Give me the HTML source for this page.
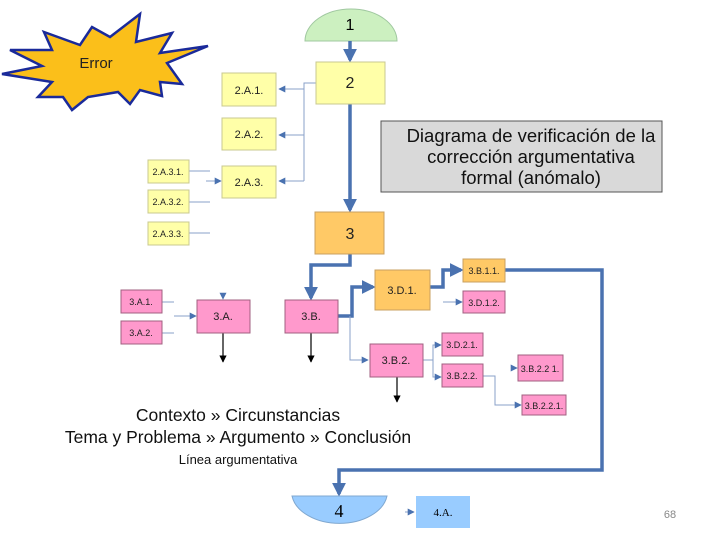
<!DOCTYPE html>
<html><head><style>body{margin:0;background:#fff}svg{display:block}</style></head><body>
<svg width="720" height="540" viewBox="0 0 720 540" xmlns="http://www.w3.org/2000/svg" font-family="Liberation Sans, sans-serif">
<defs>
<marker id="ab" viewBox="0 0 10 10" refX="8" refY="5" markerWidth="4" markerHeight="4" orient="auto"><path d="M0,0L10,5L0,10z" fill="#4a72b0"/></marker>
<marker id="as" viewBox="0 0 10 10" refX="9" refY="5" markerWidth="7" markerHeight="7" orient="auto"><path d="M0,0L10,5L0,10z" fill="#4a72b0"/></marker>
<marker id="ak" viewBox="0 0 10 10" refX="9" refY="5" markerWidth="6" markerHeight="6" orient="auto"><path d="M0,0L10,5L0,10z" fill="#000"/></marker>
</defs>
<polygon points="44,32 80,45 92,27 110,37 140,14 136,42 172,33 160,53 208,46 167,63 182,84 160,82 162,96 140,90 130,104 118,92 88,97 72,110 63,97 38,97 52,82 2,74 42,66 10,50 52,50" fill="#fbbf1a" stroke="#1a2a9a" stroke-width="2.5"/>
<text x="96" y="68" font-size="15" text-anchor="middle" fill="#222">Error</text>
<path d="M305,41 A46,32 0 0 1 397,41 Z" fill="#ccf0c0" stroke="#a0c8a0"/>
<text x="350" y="30" font-size="16" text-anchor="middle">1</text>
<g stroke="#4a72b0" stroke-width="3.5" fill="none">
<line x1="350" y1="41" x2="350" y2="60" marker-end="url(#ab)"/>
<line x1="350" y1="104" x2="350" y2="210" marker-end="url(#ab)"/>
<polyline points="350,254 350,265 311,265 311,298" marker-end="url(#ab)"/>
<polyline points="338,316 352,316 352,287 373,287" marker-end="url(#ab)"/>
<polyline points="430,287 443,287 443,270 461,270" marker-end="url(#ab)"/>
<polyline points="505,270 602,270 602,470 339,470 339,494" marker-end="url(#ab)"/>
</g>
<g stroke="#8aa0c8" stroke-width="1" fill="none">
<polyline points="316,83 304,83 304,181"/>
<line x1="304" y1="89" x2="279" y2="89" marker-end="url(#as)"/>
<line x1="304" y1="135" x2="279" y2="135" marker-end="url(#as)"/>
<line x1="304" y1="181" x2="279" y2="181" marker-end="url(#as)"/>
<line x1="189" y1="171" x2="210" y2="171"/>
<line x1="189" y1="202" x2="210" y2="202"/>
<line x1="189" y1="233" x2="210" y2="233"/>
<line x1="206" y1="181" x2="221" y2="181" marker-end="url(#as)"/>
<line x1="162" y1="302" x2="174" y2="302"/>
<line x1="162" y1="333" x2="174" y2="333"/>
<line x1="174" y1="316" x2="196" y2="316" marker-end="url(#as)"/>
<line x1="223" y1="293" x2="223" y2="299" marker-end="url(#as)"/>
<polyline points="350,316 350,360 368,360" marker-end="url(#as)"/>
<line x1="443" y1="302" x2="462" y2="302" marker-end="url(#as)"/>
<polyline points="423,360 433,360"/>
<polyline points="441,345 433,345 433,377 441,377"/>
<line x1="433" y1="345" x2="441" y2="345" marker-end="url(#as)"/>
<line x1="433" y1="377" x2="441" y2="377" marker-end="url(#as)"/>
<polyline points="483,376 495,376 495,405 521,405" marker-end="url(#as)"/>
<line x1="512" y1="368" x2="517" y2="368" marker-end="url(#as)"/>
<line x1="405" y1="512" x2="414" y2="512" marker-end="url(#as)"/>
</g>
<g stroke="#000" stroke-width="1.2">
<line x1="223" y1="333" x2="223" y2="362" marker-end="url(#ak)"/>
<line x1="311" y1="333" x2="311" y2="362" marker-end="url(#ak)"/>
<line x1="397" y1="377" x2="397" y2="402" marker-end="url(#ak)"/>
</g>
<g fill="#ffffa8" stroke="#c8c890">
<rect x="316" y="62" width="69" height="42"/>
<rect x="222" y="73" width="54" height="33"/>
<rect x="222" y="118" width="54" height="32"/>
<rect x="222" y="166" width="54" height="32"/>
<rect x="148" y="160" width="41" height="23"/>
<rect x="148" y="190" width="41" height="23"/>
<rect x="148" y="222" width="41" height="23"/>
</g>
<g font-size="11" text-anchor="middle" fill="#222">
<text x="350" y="88" font-size="16">2</text>
<text x="249" y="94">2.A.1.</text>
<text x="249" y="138">2.A.2.</text>
<text x="249" y="186">2.A.3.</text>
<text x="168" y="175" font-size="9">2.A.3.1.</text>
<text x="168" y="205" font-size="9">2.A.3.2.</text>
<text x="168" y="237" font-size="9">2.A.3.3.</text>
</g>
<rect x="381" y="121" width="281" height="71" fill="#d9d9d9" stroke="#555"/>
<g font-size="18.5" text-anchor="middle" fill="#111">
<text x="531" y="142">Diagrama de verificación de la</text>
<text x="531" y="163">corrección argumentativa</text>
<text x="531" y="184">formal (anómalo)</text>
</g>
<g fill="#ffc966" stroke="#c8a060">
<rect x="315" y="212" width="69" height="42"/>
<rect x="375" y="270" width="55" height="40"/>
<rect x="463" y="259" width="42" height="23"/>
</g>
<g fill="#ff99cc" stroke="#a06080">
<rect x="285" y="300" width="53" height="33"/>
<rect x="197" y="300" width="53" height="33"/>
<rect x="121" y="290" width="41" height="23"/>
<rect x="121" y="321" width="41" height="23"/>
<rect x="463" y="291" width="42" height="22"/>
<rect x="370" y="344" width="53" height="33"/>
<rect x="442" y="333" width="41" height="23"/>
<rect x="442" y="364" width="41" height="23"/>
<rect x="518" y="355" width="45" height="26"/>
<rect x="522" y="395" width="44" height="20"/>
</g>
<g font-size="11" text-anchor="middle" fill="#222">
<text x="350" y="239" font-size="16">3</text>
<text x="402" y="294">3.D.1.</text>
<text x="484" y="274" font-size="9">3.B.1.1.</text>
<text x="484" y="306" font-size="9">3.D.1.2.</text>
<text x="311" y="320">3.B.</text>
<text x="223" y="320">3.A.</text>
<text x="141" y="305" font-size="9">3.A.1.</text>
<text x="141" y="336" font-size="9">3.A.2.</text>
<text x="396" y="364">3.B.2.</text>
<text x="462" y="348" font-size="9">3.D.2.1.</text>
<text x="462" y="379" font-size="9">3.B.2.2.</text>
<text x="540" y="372" font-size="9">3.B.2.2 1.</text>
<text x="544" y="409" font-size="9">3.B.2.2.1.</text>
</g>
<g fill="#111" text-anchor="middle">
<text x="238" y="421" font-size="17.5">Contexto » Circunstancias</text>
<text x="238" y="443" font-size="17.5">Tema y Problema » Argumento » Conclusión</text>
<text x="238" y="464" font-size="13">Línea argumentativa</text>
</g>
<path d="M292,496 L387,496 A48,32 0 0 1 292,496 Z" fill="#99ccff" stroke="#80a8d0"/>
<text x="339" y="517" font-size="18" text-anchor="middle" font-family="Liberation Serif, serif">4</text>
<rect x="416" y="496" width="54" height="32" fill="#99ccff"/>
<text x="443" y="516" font-size="11" text-anchor="middle" font-family="Liberation Serif, serif">4.A.</text>
<text x="670" y="518" font-size="11" text-anchor="middle" fill="#888">68</text>
</svg>
</body></html>
